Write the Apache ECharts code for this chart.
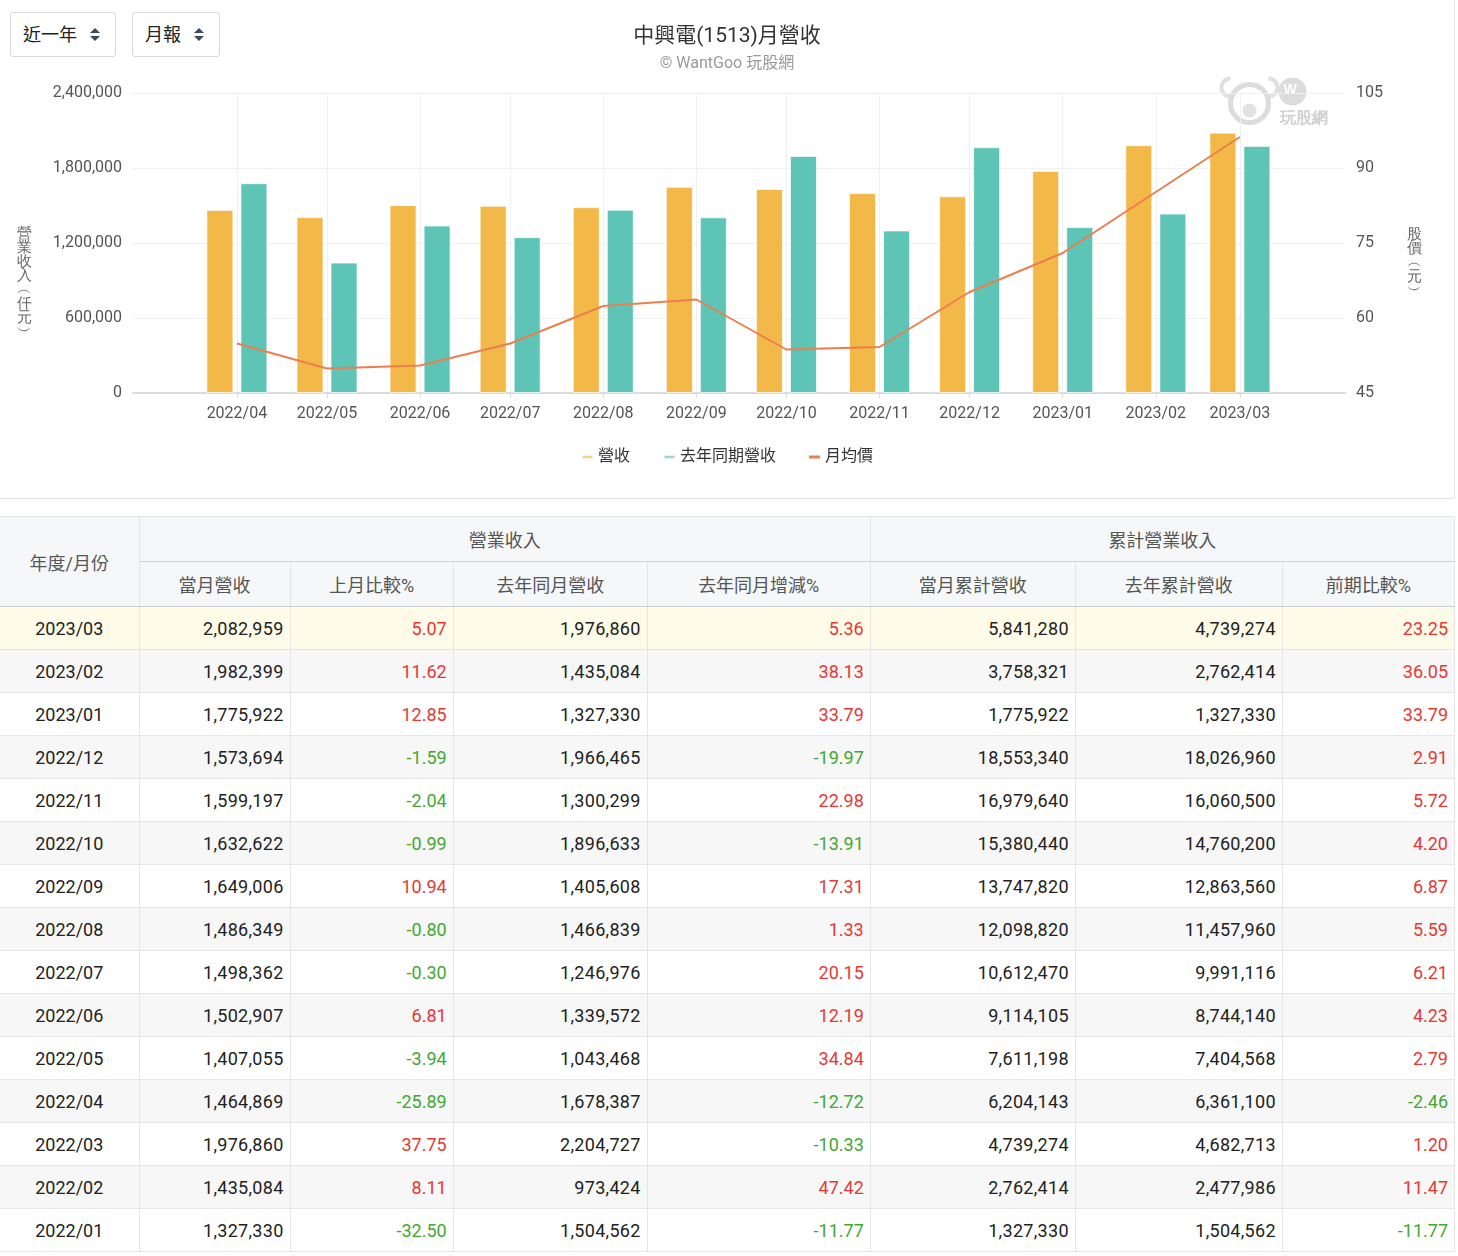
<!DOCTYPE html>
<html>
<head>
<meta charset="utf-8">
<title>中興電(1513)月營收</title>
<script src="https://cdn.jsdelivr.net/npm/echarts@6.0.0/dist/echarts.min.js"></script>
<style>
  body { margin: 0; background: #fff; font-family: Roboto, "Noto Sans CJK TC", sans-serif; color: #222; }
  #wrap { position: relative; width: 1458px; height: 1256px; overflow: hidden; }
  #panel { position: absolute; left: 0; top: 0; width: 1454px; height: 498px; border-right: 1px solid #e6e6e6; border-bottom: 1px solid #e2e2e2; }
  #chart { width: 1454px; height: 498px; }
  .sel { position: absolute; top: 12px; height: 45px; box-sizing: border-box; border: 1px solid #d9d9d9; border-radius: 3px;
         font-size: 18px; line-height: 43px; padding-left: 12px; color: #222; background: #fff; z-index: 2; }
  .arrows { position: absolute; right: 14px; top: 15px; width: 11px; height: 14px; }
  .arrows:before, .arrows:after { content: ''; position: absolute; left: 0; border-left: 5.5px solid transparent; border-right: 5.5px solid transparent; }
  .arrows:before { top: 0; border-bottom: 5.5px solid #3d4b5c; }
  .arrows:after { top: 8px; border-top: 5.5px solid #3d4b5c; }
  table { position: absolute; top: 516px; left: 0; width: 1455px; border-collapse: collapse; font-size: 18px; table-layout: fixed; }
  th { background: #f6f7f9; color: #555; font-weight: normal; height: 44px; border: 1px solid #e4e4e4; padding: 0; }
  tr.h1 th.grp { border-bottom: 1px solid #cfd2d6; }
  tr.h2 th, th.ym { border-bottom: 1px solid #c9ccd0; }
  th:first-child, td:first-child { border-left: none; }
  td { height: 42px; border: 1px solid #e6e6e6; text-align: right; padding: 0 6px 0 0; color: #222; }
  td.amt { letter-spacing: 0.3px; }
  td:first-child { text-align: center; padding: 0; }
  tr.odd td { background: #f7f7f7; }
  tr.hl td { background: #fefbe9; }
  .up { color: #e53935; }
  .dn { color: #43a832; }
</style>
</head>
<body>
<div id="wrap">
  <div id="panel">
    <div class="sel" style="left:10px;width:106px;">近一年<span class="arrows"></span></div>
    <div class="sel" style="left:132px;width:88px;">月報<span class="arrows"></span></div>
    <div id="chart"></div>
  </div>
  <table id="tbl">
    <colgroup>
      <col style="width:139px"><col style="width:151px"><col style="width:163px"><col style="width:194px">
      <col style="width:223px"><col style="width:205px"><col style="width:207px"><col style="width:172px">
    </colgroup>
    <thead>
      <tr class="h1"><th class="ym" rowspan="2">年度/月份</th><th class="grp" colspan="4">營業收入</th><th class="grp" colspan="3">累計營業收入</th></tr>
      <tr class="h2"><th>當月營收</th><th>上月比較%</th><th>去年同月營收</th><th>去年同月增減%</th><th>當月累計營收</th><th>去年累計營收</th><th>前期比較%</th></tr>
    </thead>
    <tbody id="body"></tbody>
  </table>
</div>

<script>
// 圖表資料 (2022/04 ~ 2023/03)
const months = ['2022/04', '2022/05', '2022/06', '2022/07', '2022/08', '2022/09',
                '2022/10', '2022/11', '2022/12', '2023/01', '2023/02', '2023/03'];
const revenue = [1464869, 1407055, 1502907, 1498362, 1486349, 1649006,
                 1632622, 1599197, 1573694, 1775922, 1982399, 2082959];
const revenueLastYear = [1678387, 1043468, 1339572, 1246976, 1466839, 1405608,
                         1896633, 1300299, 1966465, 1327330, 1435084, 1976860];
const avgPrice = [54.9, 49.9, 50.5, 54.9, 62.4, 63.7, 53.7, 54.2, 65.2, 73.0, 85.2, 96.2];

// 表格資料 (新到舊)
const tMonths = ['2023/03', '2023/02', '2023/01', '2022/12', '2022/11', '2022/10', '2022/09', '2022/08',
                 '2022/07', '2022/06', '2022/05', '2022/04', '2022/03', '2022/02', '2022/01'];
const tRevenue = [2082959, 1982399, 1775922, 1573694, 1599197, 1632622, 1649006, 1486349,
                  1498362, 1502907, 1407055, 1464869, 1976860, 1435084, 1327330];
const tMoM = [5.07, 11.62, 12.85, -1.59, -2.04, -0.99, 10.94, -0.80, -0.30, 6.81, -3.94, -25.89, 37.75, 8.11, -32.50];
const tLastYear = [1976860, 1435084, 1327330, 1966465, 1300299, 1896633, 1405608, 1466839,
                   1246976, 1339572, 1043468, 1678387, 2204727, 973424, 1504562];
const tYoY = [5.36, 38.13, 33.79, -19.97, 22.98, -13.91, 17.31, 1.33, 20.15, 12.19, 34.84, -12.72, -10.33, 47.42, -11.77];
const tCum = [5841280, 3758321, 1775922, 18553340, 16979640, 15380440, 13747820, 12098820,
              10612470, 9114105, 7611198, 6204143, 4739274, 2762414, 1327330];
const tCumLast = [4739274, 2762414, 1327330, 18026960, 16060500, 14760200, 12863560, 11457960,
                  9991116, 8744140, 7404568, 6361100, 4682713, 2477986, 1504562];
const tCumPct = [23.25, 36.05, 33.79, 2.91, 5.72, 4.20, 6.87, 5.59, 6.21, 4.23, 2.79, -2.46, 1.20, 11.47, -11.77];

const fmt = v => v.toLocaleString('en-US');
const amt = v => '<td class="amt">' + fmt(v) + '</td>';
const pct = v => '<td class="' + (v < 0 ? 'dn' : 'up') + '">' + v.toFixed(2) + '</td>';

let rows = '';
tMonths.forEach((m, i) => {
  const cls = i === 0 ? 'hl' : (i % 2 === 1 ? 'odd' : '');
  rows += '<tr class="' + cls + '"><td>' + m + '</td>' + amt(tRevenue[i]) + pct(tMoM[i]) +
          amt(tLastYear[i]) + pct(tYoY[i]) + amt(tCum[i]) + amt(tCumLast[i]) + pct(tCumPct[i]) + '</tr>';
});
document.getElementById('body').innerHTML = rows;

// 月份 -> 時間戳 (x 軸用數值軸, 以日期比例排列)
const toTime = s => { const p = s.split('/'); return Date.UTC(+p[0], +p[1] - 1, 1); };
const DAY = 86400000;
const times = months.map(toTime);
const monthLabel = v => {
  const d = new Date(v);
  return d.getUTCFullYear() + '/' + String(d.getUTCMonth() + 1).padStart(2, '0');
};

const chart = echarts.init(document.getElementById('chart'));
chart.setOption({
  animation: false,
  textStyle: { fontFamily: 'Roboto, "Noto Sans CJK TC", sans-serif' },
  title: {
    text: '中興電(1513)月營收',
    subtext: '© WantGoo 玩股網',
    left: 'center',
    top: 21,
    itemGap: 9,
    textStyle: { fontSize: 21, color: '#333', fontWeight: 'normal' },
    subtextStyle: { fontSize: 16, color: '#999' }
  },
  legend: {
    top: 444,
    left: 'center',
    icon: 'rect',
    itemWidth: 11,
    itemHeight: 3,
    itemGap: 33,
    textStyle: { fontSize: 16, color: '#333' },
    data: ['營收', '去年同期營收', '月均價']
  },
  grid: { left: 133, right: 109, top: 93, bottom: 105 },
  xAxis: {
    type: 'value',
    min: times[0] - 34.6 * DAY,
    max: times[times.length - 1] + 35 * DAY,
    axisLine: { lineStyle: { color: '#dcdcdc', width: 2 } },
    axisTick: { customValues: times, length: 5, lineStyle: { color: '#dcdcdc' } },
    axisLabel: { customValues: times, formatter: monthLabel, color: '#555', fontSize: 16, margin: 13 },
    splitLine: { show: true, lineStyle: { color: '#f0f0f0' } }
  },
  yAxis: [
    {
      type: 'value', min: 0, max: 2400000, interval: 600000,
      axisLabel: { formatter: v => fmt(v), color: '#555', fontSize: 16, margin: 11 },
      axisLine: { show: false }, axisTick: { show: false },
      splitLine: { lineStyle: { color: '#f0f0f0' } }
    },
    {
      type: 'value', min: 45, max: 105, interval: 15,
      axisLabel: { color: '#555', fontSize: 16, margin: 11 },
      axisLine: { show: false }, axisTick: { show: false },
      splitLine: { show: false }
    }
  ],
  graphic: [
    // 左右軸名稱 (直排)
    { type: 'text', left: 17, top: 226, silent: true,
      style: { text: '營\n業\n收\n入\n︵\n仟\n元\n︶', fontSize: 15, lineHeight: 14, fill: '#666', align: 'center' } },
    { type: 'text', left: 1407, top: 227, silent: true,
      style: { text: '股\n價\n︵\n元\n︶', fontSize: 15, lineHeight: 14, fill: '#666', align: 'center' } },
    // 浮水印
    {
      type: 'group', left: 1219, top: 76, silent: true,
      children: [
        { type: 'arc', shape: { cx: 10, cy: 12, r: 9, startAngle: Math.PI * 0.5, endAngle: Math.PI * 1.5 }, style: { fill: 'none', stroke: '#e0e0e0', lineWidth: 4 } },
        { type: 'arc', shape: { cx: 48, cy: 12, r: 9, startAngle: -Math.PI * 0.5, endAngle: Math.PI * 0.5 }, style: { fill: 'none', stroke: '#e0e0e0', lineWidth: 4 } },
        { type: 'circle', shape: { cx: 29, cy: 28, r: 19 }, style: { fill: 'none', stroke: '#dcdcdc', lineWidth: 5 } },
        { type: 'circle', shape: { cx: 29, cy: 35, r: 7 }, style: { fill: '#e2e2e2' } },
        { type: 'circle', shape: { cx: 72, cy: 16, r: 14 }, style: { fill: '#dcdcdc' } },
        { type: 'text', style: { x: 63, y: 8, text: 'W', fill: '#fff', fontSize: 14, fontWeight: 'bold' } },
        { type: 'text', style: { x: 59, y: 35, text: '玩股網', fill: '#d0d0d0', fontSize: 16, fontWeight: 'bold' } }
      ]
    }
  ],
  series: [
    {
      name: '營收', type: 'bar', barWidth: 27, barGap: '26%',
      itemStyle: { color: '#f3b948', borderColor: 'rgba(255,255,255,0.7)', borderWidth: 1 },
      data: times.map((t, i) => [t, revenue[i]])
    },
    {
      name: '去年同期營收', type: 'bar', barWidth: 27, barGap: '26%',
      itemStyle: { color: '#5ec5b6', borderColor: 'rgba(255,255,255,0.7)', borderWidth: 1 },
      data: times.map((t, i) => [t, revenueLastYear[i]])
    },
    {
      name: '月均價', type: 'line', yAxisIndex: 1, showSymbol: false, symbol: 'none',
      lineStyle: { color: '#eb7f4f', width: 2 },
      itemStyle: { color: '#eb7f4f' },
      data: times.map((t, i) => [t, avgPrice[i]])
    }
  ]
});
</script>
</body>
</html>
